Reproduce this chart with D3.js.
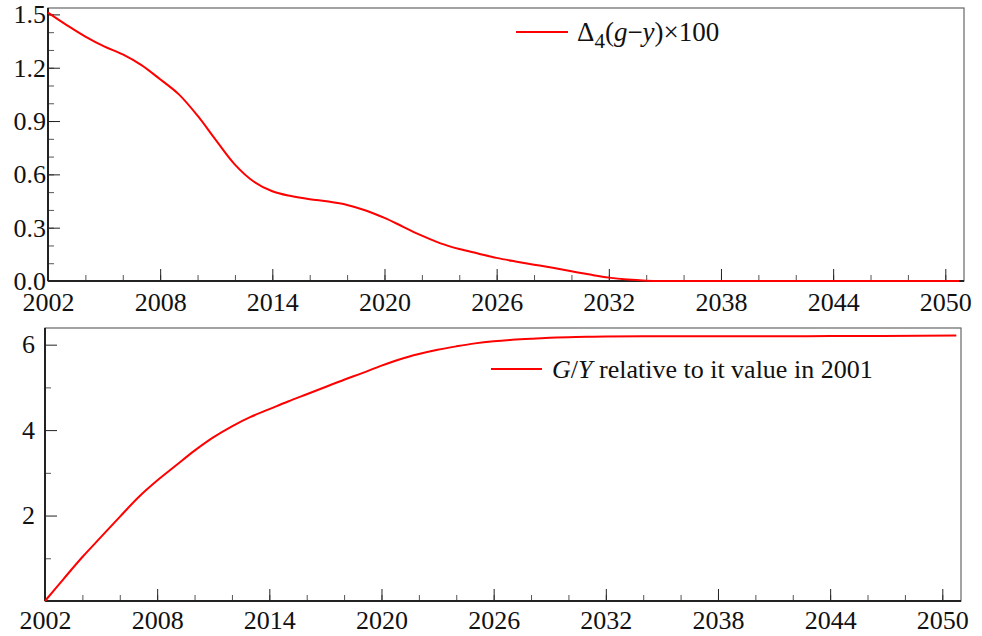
<!DOCTYPE html>
<meta charset="utf-8">
<head>
<title>Delta4 and G/Y</title>
<script src="https://d3js.org/d3.v7.min.js"></script>
<style>
  body { margin: 0; background: #fff; }
  text { font-family: "Liberation Serif", "DejaVu Serif", serif; fill: #111; }
</style>
</head>
<div id="chart"></div>
<script>
  // data
  var yearsTop = [2002, 2003, 2004, 2005, 2006, 2007, 2008, 2009, 2010, 2011, 2012, 2013, 2014, 2015, 2016, 2017, 2018,
    2019, 2020, 2021, 2022, 2023, 2024, 2025, 2026, 2027, 2028, 2029, 2030, 2031, 2032, 2033, 2034, 2035, 2036, 2038,
    2040, 2044, 2048, 2050.75];
  var gapValues = [1.51, 1.44, 1.375, 1.32, 1.275, 1.215, 1.135, 1.05, 0.93, 0.79, 0.655, 0.56, 0.505, 0.478, 0.46, 0.447,
    0.428, 0.397, 0.355, 0.305, 0.255, 0.212, 0.18, 0.155, 0.13, 0.11, 0.092, 0.074, 0.055, 0.036, 0.019, 0.008, 0.002,
    0, 0, 0, 0, 0, 0, 0];

  var yearsBottom = [2002, 2003, 2004, 2005, 2006, 2007, 2008, 2009, 2010, 2011, 2012, 2013, 2014, 2015, 2016, 2017,
    2018, 2019, 2020, 2021, 2022, 2023, 2024, 2025, 2026, 2027, 2028, 2029, 2030, 2031, 2032, 2034, 2038, 2044, 2050.75];
  var ratioValues = [0, 0.52, 1.03, 1.5, 1.97, 2.43, 2.82, 3.17, 3.52, 3.83, 4.09, 4.31, 4.49, 4.67, 4.84, 5.01, 5.18,
    5.34, 5.51, 5.66, 5.78, 5.88, 5.96, 6.03, 6.08, 6.115, 6.14, 6.16, 6.175, 6.185, 6.19, 6.195, 6.195, 6.2, 6.215];

  var xTicks = [2002, 2008, 2014, 2020, 2026, 2032, 2038, 2044, 2050];
  var topTicks = [0.0, 0.3, 0.6, 0.9, 1.2, 1.5];
  var bottomTicks = [2, 4, 6];

  var W = 982, H = 636;
  var serif = "'Liberation Serif', 'DejaVu Serif', serif";
  var svg = d3.select("#chart").append("svg")
    .attr("width", W).attr("height", H);

  function panel(opt) {
    var g = svg.append("g").attr("transform", "translate(" + opt.left + "," + opt.top + ")");
    var w = opt.right - opt.left, h = opt.bottom - opt.top;

    var x = d3.scaleLinear().domain([2002, 2051]).range([0, w]);
    var y = d3.scaleLinear().domain(opt.yDomain).range([h, 0]);

    // frame
    g.append("rect")
      .attr("width", w).attr("height", h)
      .attr("fill", "none").attr("stroke", "#666").attr("stroke-width", 1.2);

    // minor ticks
    g.append("g").attr("transform", "translate(0," + h + ")")
      .call(d3.axisBottom(x).tickValues(d3.range(2002, 2051, 2)).tickSize(-6).tickFormat(""))
      .call(function(s) { s.select(".domain").remove(); s.selectAll("line").attr("stroke", "#555"); });
    g.append("g")
      .call(d3.axisLeft(y).tickValues(opt.yMinor).tickSize(-6).tickFormat(""))
      .call(function(s) { s.select(".domain").remove(); s.selectAll("line").attr("stroke", "#555"); });

    // major ticks + labels
    var ax = g.append("g").attr("transform", "translate(0," + h + ")")
      .call(d3.axisBottom(x).tickValues(xTicks).tickSize(-12).tickPadding(opt.xPad).tickFormat(d3.format("d")));
    ax.select(".domain").remove();
    ax.selectAll("line").attr("stroke", "#222");
    ax.selectAll("text").style("font-size", "26px").attr("fill", "#111");

    var ay = g.append("g")
      .call(d3.axisLeft(y).tickValues(opt.yTicks).tickSize(-12).tickPadding(opt.yPad).tickFormat(opt.yFormat));
    ay.select(".domain").remove();
    ay.selectAll("line").attr("stroke", "#222");
    ay.selectAll("text").style("font-size", "26px").attr("fill", "#111");

    // bottom and left axis lines
    g.append("line").attr("x1", 0).attr("x2", w).attr("y1", h).attr("y2", h)
      .attr("stroke", "#222").attr("stroke-width", 2);
    g.append("line").attr("x1", 0).attr("x2", 0).attr("y1", 0).attr("y2", h)
      .attr("stroke", "#222").attr("stroke-width", 2);

    // curve
    var line = d3.line()
      .x(function(d) { return x(d[0]); })
      .y(function(d) { return y(d[1]); })
      .curve(d3.curveCatmullRom.alpha(0.5));
    g.append("path")
      .datum(d3.zip(opt.years, opt.values))
      .attr("fill", "none").attr("stroke", "#ff0000").attr("stroke-width", 2)
      .attr("d", line);

    return g;
  }

  var topPanel = panel({
    left: 48, right: 964, top: 8, bottom: 281,
    yDomain: [0, 1.536], yTicks: topTicks, yMinor: d3.range(0, 16).map(function(i) { return i / 10; }),
    yFormat: d3.format(".1f"), xPad: 12, yPad: 2,
    years: yearsTop, values: gapValues
  });

  var bottomPanel = panel({
    left: 45, right: 961, top: 328, bottom: 601,
    yDomain: [0, 6.39], yTicks: bottomTicks, yMinor: [1, 3, 5],
    yFormat: d3.format("d"), xPad: 10, yPad: 10,
    years: yearsBottom, values: ratioValues
  });

  // legends
  topPanel.append("line").attr("x1", 468).attr("x2", 520).attr("y1", 24).attr("y2", 24)
    .attr("stroke", "#ff0000").attr("stroke-width", 2);
  var t1 = topPanel.append("text").attr("x", 529).attr("y", 33)
    .style("font-family", serif).style("font-size", "27px");
  t1.append("tspan").text("Δ");
  t1.append("tspan").attr("dy", 7).style("font-size", "21px").text("4");
  t1.append("tspan").attr("dy", -7).text("(");
  t1.append("tspan").style("font-style", "italic").text("g");
  t1.append("tspan").text("−");
  t1.append("tspan").style("font-style", "italic").text("y");
  t1.append("tspan").text(")×100");

  bottomPanel.append("line").attr("x1", 446).attr("x2", 497).attr("y1", 41).attr("y2", 41)
    .attr("stroke", "#ff0000").attr("stroke-width", 2);
  var t2 = bottomPanel.append("text").attr("x", 507).attr("y", 50)
    .style("font-family", serif).style("font-size", "26px");
  t2.append("tspan").style("font-style", "italic").text("G");
  t2.append("tspan").text("/");
  t2.append("tspan").style("font-style", "italic").text("Y");
  t2.append("tspan").text(" relative to it value in 2001");
</script>
